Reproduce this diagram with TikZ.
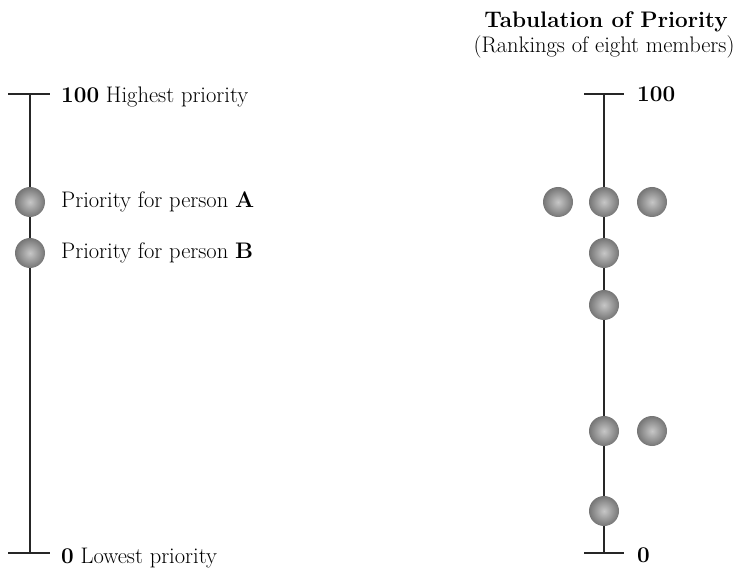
\documentclass[tikz,border=0pt]{standalone}
\usepackage{tikz}
\usetikzlibrary{positioning}

\tikzset{
  member/.style={circle, minimum size=30pt, inner sep=0pt,
    shading=radial, inner color=black!22, outer color=black!54},
  axis/.style={line width=2pt, black!85},
  lab/.style={anchor=base west, inner sep=0pt, font=\fontsize{22.5}{27}\selectfont}
}

\begin{document}
\begin{tikzpicture}[x=1pt, y=-1pt]
  \useasboundingbox (0,0) rectangle (747,569);

  % --- one member on a scale ---
  \coordinate (top1) at (30,94);     % 100
  \coordinate (bot1) at (30,553);    % 0
  \draw[axis] (top1) -- (bot1);
  \draw[axis] ([xshift=-22pt]top1) -- ([xshift=20pt]top1);
  \draw[axis] ([xshift=-22pt]bot1) -- ([xshift=20pt]bot1);
  \node[lab] (hi1) at (61,103) {\textbf{100} Highest priority};
  \node[lab] (lo1) at (61,563) {\textbf{0} Lowest priority};
  \node[member] (pA) at (30,202) {};
  \node[member] (pB) at (30,253) {};
  \node[lab] (labA) at (61,208) {Priority for person \textbf{A}};
  \node[lab] (labB) at (61,259) {Priority for person \textbf{B}};

  % --- tabulation of eight members ---
  \coordinate (top2) at (604,94);
  \coordinate (bot2) at (604,553);
  \draw[axis] (top2) -- (bot2);
  \draw[axis] ([xshift=-20pt]top2) -- ([xshift=20pt]top2);
  \draw[axis] ([xshift=-20pt]bot2) -- ([xshift=20pt]bot2);
  \node[lab] (hi2) at (637,102) {\textbf{100}};
  \node[lab] (lo2) at (637,562) {\textbf{0}};
  \node[anchor=base, font=\fontsize{22.5}{27}\selectfont\bfseries] (title) at (606,28) {Tabulation of Priority};
  \node[anchor=base, font=\fontsize{22.5}{27}\selectfont] (subtitle) at (604,53) {(Rankings of eight members)};
  \node[member] (m1) at (558,202) {};
  \node[member] (m2) at (604,202) {};
  \node[member] (m3) at (652,202) {};
  \node[member] (m4) at (604,253) {};
  \node[member] (m5) at (604,305) {};
  \node[member] (m6) at (604,431) {};
  \node[member] (m7) at (652,431) {};
  \node[member] (m8) at (604,511) {};
\end{tikzpicture}
\end{document}
